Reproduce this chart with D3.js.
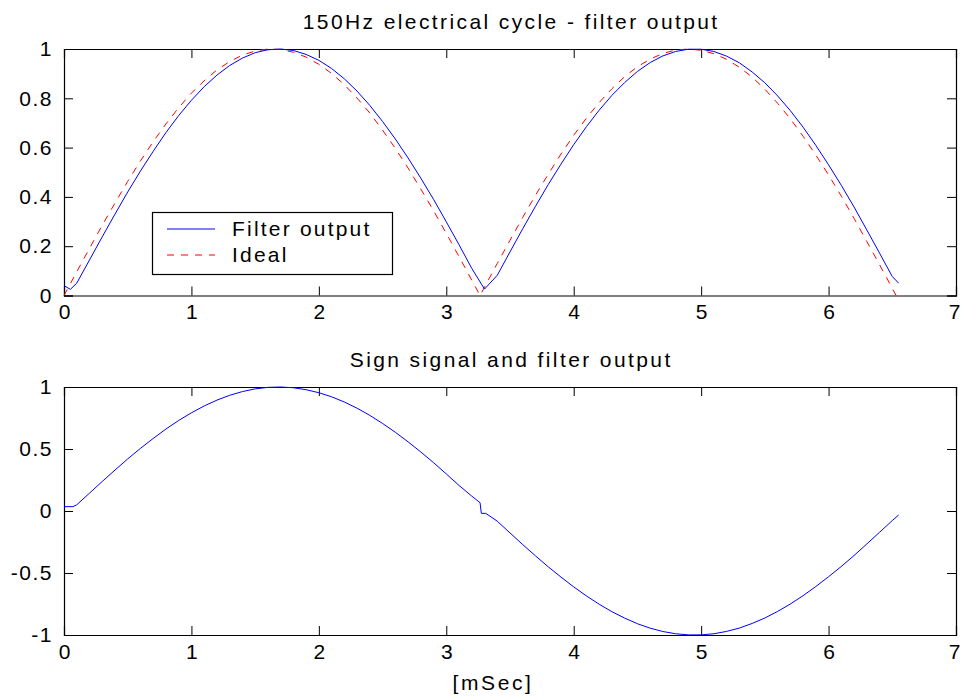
<!DOCTYPE html>
<html><head><meta charset="utf-8">
<script src="https://cdn.jsdelivr.net/npm/d3@7"></script>
<style>body{margin:0;background:#fff}svg{display:block}text{font-family:"Liberation Sans",Arial,sans-serif;fill:#000}</style>
</head><body>
<script>
// ---- data ----
const idealTime = [0,0.1,0.2,0.3,0.4,0.5,0.6,0.7,0.8,0.9,1.0,1.1,1.2,1.3,1.4,1.5,1.6,1.7,1.8,1.9,2.0,2.1,2.2,2.3,2.4,2.5,2.6,2.7,2.8,2.9,3.0,3.1,3.2,3.265,3.3,3.4,3.5,3.6,3.7,3.8,3.9,4.0,4.1,4.2,4.3,4.4,4.5,4.6,4.7,4.8,4.9,5.0,5.1,5.2,5.3,5.4,5.5,5.6,5.7,5.8,5.9,6.0,6.1,6.2,6.3,6.4,6.5,6.53];
const idealValue = [0,0.096,0.191,0.285,0.375,0.463,0.546,0.624,0.696,0.762,0.821,0.871,0.915,0.949,0.975,0.992,1.000,0.998,0.987,0.967,0.938,0.901,0.855,0.801,0.740,0.671,0.597,0.517,0.432,0.344,0.252,0.158,0.062,0,0.034,0.130,0.224,0.317,0.407,0.492,0.574,0.650,0.720,0.783,0.839,0.888,0.928,0.959,0.982,0.996,1.000,0.995,0.981,0.958,0.926,0.886,0.837,0.780,0.717,0.646,0.570,0.489,0.403,0.313,0.219,0.125,0.029,0];
const filterTime = [0,0.05,0.1,0.2,0.3,0.4,0.5,0.6,0.7,0.8,0.9,1.0,1.1,1.2,1.3,1.4,1.5,1.6,1.7,1.8,1.9,2.0,2.1,2.2,2.3,2.4,2.5,2.6,2.7,2.8,2.9,3.0,3.1,3.2,3.3,3.4,3.5,3.6,3.7,3.8,3.9,4.0,4.1,4.2,4.3,4.4,4.5,4.6,4.7,4.8,4.9,5.0,5.1,5.2,5.3,5.4,5.5,5.6,5.7,5.8,5.9,6.0,6.1,6.2,6.3,6.4,6.5,6.55];
const filterValue = [0.04,0.025,0.05,0.144,0.238,0.330,0.420,0.505,0.585,0.661,0.730,0.792,0.847,0.894,0.933,0.963,0.985,0.997,1.000,0.994,0.978,0.954,0.921,0.879,0.829,0.771,0.706,0.635,0.558,0.476,0.390,0.299,0.206,0.110,0.026,0.082,0.177,0.271,0.362,0.450,0.533,0.612,0.685,0.752,0.812,0.864,0.909,0.945,0.972,0.990,0.999,0.999,0.990,0.971,0.944,0.907,0.863,0.810,0.750,0.683,0.609,0.530,0.447,0.359,0.266,0.172,0.077,0.05];
const signTime = [0,0.07,0.1,0.2,0.3,0.4,0.5,0.6,0.7,0.8,0.9,1.0,1.1,1.2,1.3,1.4,1.5,1.6,1.7,1.8,1.9,2.0,2.1,2.2,2.3,2.4,2.5,2.6,2.7,2.8,2.9,3.0,3.1,3.2,3.265,3.275,3.31,3.4,3.5,3.6,3.7,3.8,3.9,4.0,4.1,4.2,4.3,4.4,4.5,4.6,4.7,4.8,4.9,5.0,5.1,5.2,5.3,5.4,5.5,5.6,5.7,5.8,5.9,6.0,6.1,6.2,6.3,6.4,6.5,6.55];
const signValue = [0.035,0.035,0.05,0.144,0.238,0.330,0.420,0.505,0.585,0.661,0.730,0.792,0.847,0.894,0.933,0.963,0.985,0.997,1.000,0.994,0.978,0.954,0.921,0.879,0.829,0.771,0.706,0.635,0.558,0.476,0.390,0.299,0.206,0.120,0.067,-0.019,-0.019,-0.082,-0.177,-0.271,-0.362,-0.450,-0.533,-0.612,-0.685,-0.752,-0.812,-0.864,-0.909,-0.945,-0.972,-0.990,-0.999,-0.999,-0.990,-0.971,-0.944,-0.907,-0.863,-0.810,-0.750,-0.683,-0.609,-0.530,-0.447,-0.359,-0.266,-0.172,-0.077,-0.032];
const xTicks = [0,1,2,3,4,5,6,7];
const topYTicks = [0,0.2,0.4,0.6,0.8,1];
const botYTicks = [-1,-0.5,0,0.5,1];
const titles = ["150Hz electrical cycle - filter output","Sign signal and filter output"];
const legendLabels = ["Filter output","Ideal"];
const xLabel = "[mSec]";

// ---- drawing ----
const W = 961, H = 696;
const svg = d3.select("body").append("svg").attr("width", W).attr("height", H);
const L = 64, R = 956;
const FS = 21, LS = 2.4;

function panel(top, bottom, yDomain, yTicks, title) {
  const x = d3.scaleLinear().domain([0,7]).range([L,R]);
  const y = d3.scaleLinear().domain(yDomain).range([bottom,top]);
  const g = svg.append("g");
  const tl = 9;
  const fmt = d => String(d);
  const ax = d3.axisBottom(x).tickValues(xTicks).tickSize(-tl).tickPadding(9).tickFormat(fmt);
  const gx = g.append("g").attr("transform",`translate(0,${bottom})`).call(ax);
  gx.selectAll(".tick text").attr("letter-spacing",0).attr("dx", d => d === 7 ? -2 : 0);
  const axT = d3.axisTop(x).tickValues(xTicks).tickSize(-tl).tickFormat("");
  g.append("g").attr("transform",`translate(0,${top})`).call(axT);
  const ay = d3.axisLeft(y).tickValues(yTicks).tickSize(-tl).tickPadding(11).tickFormat(fmt);
  const gy = g.append("g").attr("transform",`translate(${L},0)`).call(ay);
  gy.selectAll(".tick text").attr("letter-spacing",1.5);
  const ayR = d3.axisRight(y).tickValues(yTicks).tickSize(-tl).tickFormat("");
  g.append("g").attr("transform",`translate(${R},0)`).call(ayR);
  g.selectAll(".domain").attr("stroke","#000").attr("stroke-width",1.2);
  g.selectAll(".tick line").attr("stroke","#000");
  g.selectAll(".tick text").attr("font-size",FS).attr("font-family","Liberation Sans, Arial").attr("fill","#000");
  g.append("text").attr("x",(L+R)/2 + LS/2).attr("y",top-20).attr("text-anchor","middle")
    .attr("font-size",FS).attr("letter-spacing",LS).text(title);
  return {x,y,g};
}

const p1 = panel(49, 295.5, [0,1], topYTicks, titles[0]);
const p2 = panel(387, 635, [-1,1], botYTicks, titles[1]);

const line1 = d3.line().x(d=>p1.x(d[0])).y(d=>p1.y(d[1]));
svg.append("path").datum(d3.zip(idealTime, idealValue)).attr("d",line1)
  .attr("fill","none").attr("stroke","#ff0000").attr("stroke-width",1).attr("stroke-dasharray","7,7");
svg.append("path").datum(d3.zip(filterTime, filterValue)).attr("d",line1)
  .attr("fill","none").attr("stroke","#0000ff").attr("stroke-width",1);

const line2 = d3.line().x(d=>p2.x(d[0])).y(d=>p2.y(d[1]));
svg.append("path").datum(d3.zip(signTime, signValue)).attr("d",line2)
  .attr("fill","none").attr("stroke","#0000ff").attr("stroke-width",1);

// legend
const lg = svg.append("g");
lg.append("rect").attr("x",152.5).attr("y",212.5).attr("width",240).attr("height",62)
  .attr("fill","#fff").attr("stroke","#000").attr("stroke-width",1.2);
const legendStyles = [{c:"#0000ff",d:null},{c:"#ff0000",d:"7,7"}];
legendLabels.forEach((lab,i)=>{
  const yy = 229 + i*26;
  lg.append("line").attr("x1",167).attr("x2",215).attr("y1",yy).attr("y2",yy)
    .attr("stroke",legendStyles[i].c).attr("stroke-width",1).attr("stroke-dasharray",legendStyles[i].d);
  lg.append("text").attr("x",232).attr("y",yy+7).attr("font-size",FS).attr("letter-spacing",2.2).text(lab);
});

svg.append("text").attr("x",493).attr("y",690).attr("text-anchor","middle")
  .attr("font-size",FS).attr("letter-spacing",2.6).text(xLabel);
</script>
</body></html>
